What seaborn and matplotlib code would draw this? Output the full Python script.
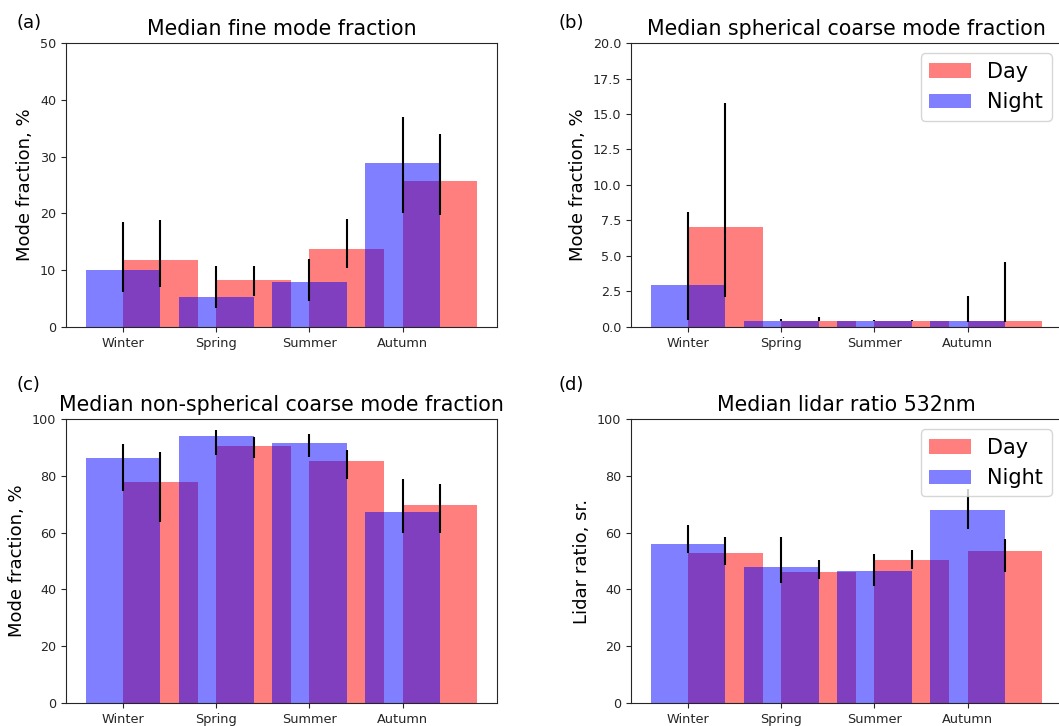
import numpy as np
import pandas as pd
import matplotlib
matplotlib.use("Agg")
import matplotlib.pyplot as plt
import seaborn as sns

seasons = ["Winter", "Spring", "Summer", "Autumn"]

# (a) fine mode fraction
fine_day = [11.8, 8.2, 13.8, 25.7]
fine_night = [10.0, 5.3, 7.9, 28.8]
fine_day_lo = [7.0, 5.4, 10.3, 19.8]
fine_day_hi = [18.8, 10.8, 19.0, 33.9]
fine_night_lo = [6.2, 3.3, 4.6, 20.1]
fine_night_hi = [18.5, 10.8, 11.9, 36.9]

# (b) spherical coarse mode fraction
sph_day = [7.05, 0.45, 0.42, 0.42]
sph_night = [2.96, 0.45, 0.45, 0.40]
sph_day_lo = [2.1, 0.45, 0.42, 0.35]
sph_day_hi = [15.8, 0.68, 0.5, 4.6]
sph_night_lo = [0.47, 0.45, 0.45, 0.35]
sph_night_hi = [8.12, 0.55, 0.5, 2.16]

# (c) non-spherical coarse mode fraction
nsph_day = [77.8, 90.6, 85.2, 69.8]
nsph_night = [86.2, 93.9, 91.5, 67.2]
nsph_day_lo = [63.8, 86.1, 78.9, 59.9]
nsph_day_hi = [88.5, 93.5, 89.1, 77.2]
nsph_night_lo = [74.8, 87.5, 86.7, 60.0]
nsph_night_hi = [91.3, 96.1, 94.7, 78.7]

# (d) lidar ratio 532 nm
lr_day = [52.9, 46.2, 50.2, 53.4]
lr_night = [56.0, 47.8, 46.6, 67.8]
lr_day_lo = [48.6, 43.6, 47.2, 46.2]
lr_day_hi = [58.5, 50.4, 54.0, 57.9]
lr_night_lo = [52.7, 42.1, 41.2, 61.2]
lr_night_hi = [62.7, 58.4, 52.5, 75.3]

panels = [
    dict(tag="(a)", title="Median fine mode fraction", ylabel="Mode fraction, %",
         day=fine_day, night=fine_night, dlo=fine_day_lo, dhi=fine_day_hi,
         nlo=fine_night_lo, nhi=fine_night_hi, ylim=(0, 50), yt=np.arange(0, 51, 10),
         fmt="{:.0f}", legend=False, clipped=False),
    dict(tag="(b)", title="Median spherical coarse mode fraction", ylabel="Mode fraction, %",
         day=sph_day, night=sph_night, dlo=sph_day_lo, dhi=sph_day_hi,
         nlo=sph_night_lo, nhi=sph_night_hi, ylim=(0, 20), yt=np.arange(0, 20.1, 2.5),
         fmt="{:.1f}", legend=True, clipped=True),
    dict(tag="(c)", title="Median non-spherical coarse mode fraction", ylabel="Mode fraction, %",
         day=nsph_day, night=nsph_night, dlo=nsph_day_lo, dhi=nsph_day_hi,
         nlo=nsph_night_lo, nhi=nsph_night_hi, ylim=(0, 100), yt=np.arange(0, 101, 20),
         fmt="{:.0f}", legend=False, clipped=False),
    dict(tag="(d)", title="Median lidar ratio 532nm", ylabel="Lidar ratio, sr.",
         day=lr_day, night=lr_night, dlo=lr_day_lo, dhi=lr_day_hi,
         nlo=lr_night_lo, nhi=lr_night_hi, ylim=(0, 100), yt=np.arange(0, 101, 20),
         fmt="{:.0f}", legend=True, clipped=True),
]

sns.set_style("ticks")
plt.rcParams["font.family"] = ["DejaVu Sans"]
plt.rcParams["text.color"] = "black"
plt.rcParams["axes.labelcolor"] = "black"

fig = plt.figure(figsize=(10.59, 7.26), dpi=100)
W, H = 1059.0, 726.0
boxes = [(66, 43), (631, 43), (66, 419), (631, 419)]
aw, ah = 431.0, 284.0
tag_pos = [(16, 23), (559, 23), (16, 385), (559, 385)]

x = np.arange(len(seasons))
off = 0.4

for p, (bx, by), (tx, ty) in zip(panels, boxes, tag_pos):
    ax = fig.add_axes([bx / W, 1 - (by + ah) / H, aw / W, ah / H])
    dfd = pd.DataFrame({"pos": x + off, "val": p["day"]})
    dfn = pd.DataFrame({"pos": x.astype(float), "val": p["night"]})
    sns.barplot(data=dfd, x="pos", y="val", native_scale=True, width=0.8,
                color="red", alpha=0.5, saturation=1, errorbar=None,
                linewidth=0, edgecolor="none", label="Day", ax=ax)
    sns.barplot(data=dfn, x="pos", y="val", native_scale=True, width=0.8,
                color="blue", alpha=0.5, saturation=1, errorbar=None,
                linewidth=0, edgecolor="none", label="Night", ax=ax)
    ax.vlines(x + off, p["dlo"], p["dhi"], colors="black", linewidth=1.5, zorder=5)
    ax.vlines(x, p["nlo"], p["nhi"], colors="black", linewidth=1.5, zorder=5)
    ax.set_xlim(-0.61, 4.01)
    ax.set_ylim(*p["ylim"])
    ax.set_xticks(x)
    ax.set_xticklabels(seasons, fontsize=9.3)
    ax.set_yticks(p["yt"])
    ax.set_yticklabels([p["fmt"].format(v) for v in p["yt"]], fontsize=9.2)
    ax.set_xlabel("")
    ax.set_ylabel(p["ylabel"], fontsize=13)
    ax.set_title(p["title"], fontsize=14.8, pad=6)
    if p["clipped"]:
        ax.spines["right"].set_visible(False)
    if p["legend"]:
        ax.legend(loc="upper right", fontsize=15)
    else:
        leg = ax.get_legend()
        if leg is not None:
            leg.remove()
    fig.text(tx / W, 1 - ty / H, p["tag"], fontsize=13, ha="left", va="center")

fig.savefig("out.png", dpi=100)
